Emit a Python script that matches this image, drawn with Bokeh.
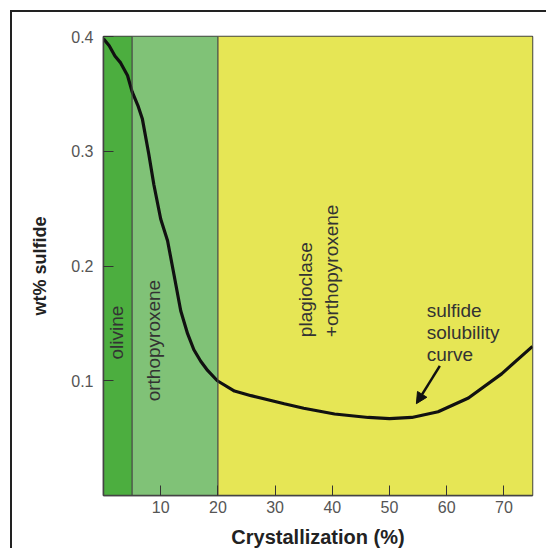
import math
from bokeh.plotting import figure
from bokeh.models import FixedTicker, Span, Arrow, NormalHead, Label
from bokeh.embed import file_html
from bokeh.resources import INLINE

# ---- data ----
crystallization = [0, 1.0, 2.0, 3.0, 4.2, 5.0, 6.0, 6.8, 7.9, 8.8, 10.0, 11.2, 12.3,
                   13.5, 14.7, 15.8, 17.0, 18.2, 19.9, 22.9, 25.8, 31.6, 35.0, 40.4,
                   46.3, 50.0, 53.9, 58.5, 63.8, 69.6, 75.0]
sulfide = [0.398, 0.392, 0.383, 0.377, 0.366, 0.352, 0.340, 0.328, 0.298, 0.271, 0.241,
           0.222, 0.193, 0.161, 0.141, 0.127, 0.117, 0.109, 0.100, 0.091, 0.087, 0.080,
           0.076, 0.071, 0.068, 0.067, 0.068, 0.073, 0.085, 0.106, 0.130]

zone_start = [0, 5, 20]
zone_end = [5, 20, 75]
zone_colors = ["#4cae3f", "#80c277", "#e6e655"]
zone_labels = ["olivine", "orthopyroxene", "plagioclase", "+orthopyroxene"]
curve_label = ["sulfide", "solubility", "curve"]

x_ticks = [10, 20, 30, 40, 50, 60, 70]
y_ticks = [0.1, 0.2, 0.3, 0.4]
x_title = "Crystallization (%)"
y_title = "wt% sulfide"

FONT = "Liberation Sans"

p = figure(frame_width=429, frame_height=459, x_range=(0, 75), y_range=(0, 0.4),
           output_backend="svg", toolbar_location=None,
           min_border_left=91, min_border_top=24, min_border_right=16, min_border_bottom=50)
p.margin = (12, 0, 0, 12)
p.styles = {"box-shadow": "-2px -2px 0px 0px #222222"}
p.background_fill_color = "white"
p.border_fill_color = "white"
p.xgrid.visible = False
p.ygrid.visible = False
p.outline_line_color = "#444444"
p.outline_line_width = 1.5

# bands
p.quad(left=zone_start, right=zone_end, bottom=0, top=0.4,
       fill_color=zone_colors, line_color=None)
for b in zone_end[:-1]:
    p.add_layout(Span(location=b, dimension="height", line_color="#444444", line_width=1.2))

# curve
p.line(crystallization, sulfide, line_color="#111111", line_width=3.2)

# axes
for ax, ticks in ((p.xaxis, x_ticks), (p.yaxis, y_ticks)):
    ax.ticker = FixedTicker(ticks=ticks)
    ax.major_tick_in = 10
    ax.major_tick_out = 0
    ax.minor_tick_in = 0
    ax.minor_tick_out = 0
    ax.major_tick_line_color = "#333333"
    ax.axis_line_color = "#444444"
    ax.axis_line_width = 1.5
    ax.major_label_text_font = FONT
    ax.major_label_text_font_size = "16px"
    ax.major_label_text_color = "#555555"
    ax.axis_label_text_font = FONT
    ax.axis_label_text_font_style = "bold"
    ax.axis_label_text_color = "#222222"
    ax.level = "overlay"

p.xaxis.axis_label = x_title
p.xaxis.axis_label_text_font_size = "20px"
p.xaxis.major_label_standoff = 5
p.xaxis.axis_label_standoff = 10
p.yaxis.axis_label = y_title
p.yaxis.axis_label_text_font_size = "18px"
p.yaxis.major_label_standoff = 10
p.yaxis.axis_label_standoff = 18

TXT = "#333333"
# rotated zone labels
p.add_layout(Label(x=2.3, y=0.142, text=zone_labels[0], angle=math.pi / 2,
                   text_align="center", text_baseline="middle",
                   text_font=FONT, text_font_size="19px", text_color=TXT))
p.add_layout(Label(x=8.8, y=0.135, text=zone_labels[1], angle=math.pi / 2,
                   text_align="center", text_baseline="middle",
                   text_font=FONT, text_font_size="19px", text_color=TXT))
p.add_layout(Label(x=35.4, y=0.138, text=zone_labels[2], angle=math.pi / 2,
                   text_align="left", text_baseline="middle",
                   text_font=FONT, text_font_size="19px", text_color=TXT))
p.add_layout(Label(x=39.8, y=0.138, text=zone_labels[3], angle=math.pi / 2,
                   text_align="left", text_baseline="middle",
                   text_font=FONT, text_font_size="19px", text_color=TXT))

for txt, yy in zip(curve_label, [0.1613, 0.1421, 0.1229]):
    p.add_layout(Label(x=56.5, y=yy, text=txt, text_align="left",
                       text_baseline="alphabetic",
                       text_font=FONT, text_font_size="19px", text_color=TXT))

p.add_layout(Arrow(end=NormalHead(size=11, fill_color="#111111", line_color="#111111"),
                   x_start=58.8, y_start=0.113, x_end=54.7, y_end=0.080,
                   line_width=2.5, line_color="#111111"))

open("out.html", "w").write(file_html(p, INLINE))
